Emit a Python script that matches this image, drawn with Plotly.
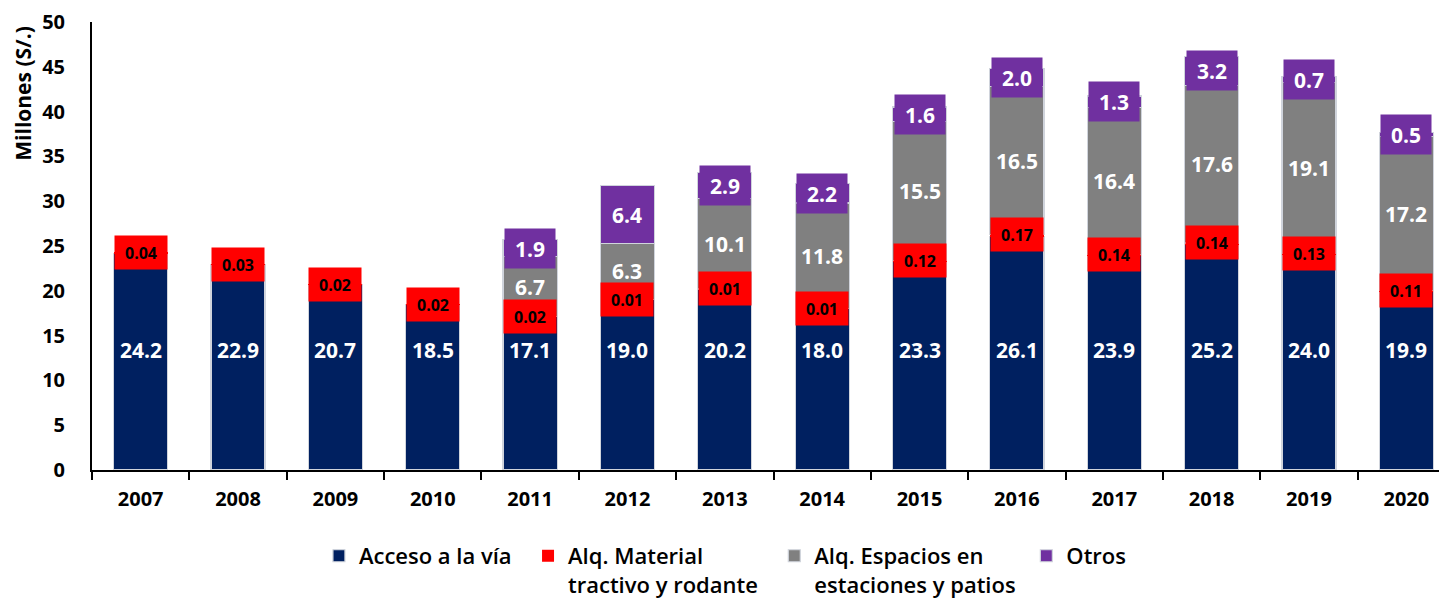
import plotly.graph_objects as go

years = ["2007", "2008", "2009", "2010", "2011", "2012", "2013",
         "2014", "2015", "2016", "2017", "2018", "2019", "2020"]
acceso = [24.2, 22.9, 20.7, 18.5, 17.1, 19.0, 20.2, 18.0, 23.3, 26.1, 23.9, 25.2, 24.0, 19.9]
material = [0.04, 0.03, 0.02, 0.02, 0.02, 0.01, 0.01, 0.01, 0.12, 0.17, 0.14, 0.14, 0.13, 0.11]
espacios = [None, None, None, None, 6.7, 6.3, 10.1, 11.8, 15.5, 16.5, 16.4, 17.6, 19.1, 17.2]
otros = [None, None, None, None, 1.9, 6.4, 2.9, 2.2, 1.6, 2.0, 1.3, 3.2, 0.7, 0.5]

names = ["Acceso a la vía", "Alq. Material<br>tractivo y rodante",
         "Alq. Espacios en<br>estaciones y patios", "Otros"]
# extra spacing after each legend entry (non-breaking spaces)
legend_pad = [2, 2, 1, 0]
colors = ["#002060", "#FF0000", "#808080", "#7030A0"]
line_widths = [1.2, 0, 1.2, 1.2]

FONT = "Open Sans"
BLUE_LABEL_Y = 13.4

fig = go.Figure()
for vals, name, pad, col, lw in zip([acceso, material, espacios, otros], names,
                                    legend_pad, colors, line_widths):
    fig.add_trace(go.Bar(
        x=years, y=vals, name=name + "&nbsp;" * pad,
        marker=dict(color=col, line=dict(color="#d0d4dc", width=lw)),
    ))

annotations = []
for i, yr in enumerate(years):
    a = acceso[i]
    m = material[i]
    base = a + m
    annotations.append(dict(x=i, y=BLUE_LABEL_Y, text=f"{a:.1f}", showarrow=False,
                            font=dict(family=FONT, size=21, color="white", weight="bold")))
    annotations.append(dict(x=i, y=base, text=f"{m:.2f}", showarrow=False,
                            bgcolor="#FF0000", width=50, height=31,
                            font=dict(family=FONT, size=16, color="black", weight="bold")))
    if espacios[i] is not None:
        e = espacios[i]
        annotations.append(dict(x=i, y=base + e / 2, text=f"{e:.1f}", showarrow=False,
                                font=dict(family=FONT, size=21, color="white", weight="bold")))
        o = otros[i]
        top = base + e
        annotations.append(dict(x=i, y=top + o / 2, text=f"{o:.1f}", showarrow=False,
                                bgcolor="#7030A0", width=48, height=37,
                                font=dict(family=FONT, size=21, color="white", weight="bold")))

annotations.append(dict(xref="paper", yref="paper", x=-0.0506, y=0.84,
                        xanchor="center", yanchor="middle",
                        text="Millones (S/.)", textangle=-90, showarrow=False,
                        font=dict(family=FONT, size=21, color="black", weight="bold")))

fig.update_layout(
    barmode="stack",
    bargap=0.445,
    width=1447, height=598,
    margin=dict(l=84, r=0, t=14, b=136),
    plot_bgcolor="white", paper_bgcolor="white",
    font=dict(family=FONT, color="black"),
    annotations=annotations,
    showlegend=True,
    legend=dict(orientation="h", x=0.1665, y=-0.145, xanchor="left", yanchor="top",
                valign="top", traceorder="normal",
                font=dict(family=FONT, size=22, color="black", weight=600)),
    xaxis=dict(
        type="category", range=[-0.5, 13.5], automargin=False,
        showline=True, linecolor="black", linewidth=2,
        ticks="outside", tickson="boundaries", ticklen=8, tickwidth=2, tickcolor="black",
        ticklabelstandoff=10,
        tickfont=dict(family=FONT, size=20, color="black", weight="bold"),
        showgrid=False, zeroline=False,
    ),
    yaxis=dict(
        range=[0, 50], dtick=5, tick0=0, automargin=False,
        showline=True, linecolor="black", linewidth=2,
        ticks="", ticklabelstandoff=21, ticklabeloverflow="allow",
        tickfont=dict(family=FONT, size=20, color="black", weight="bold"),
        showgrid=False, zeroline=False,
    ),
)

fig.write_html("out.html")
